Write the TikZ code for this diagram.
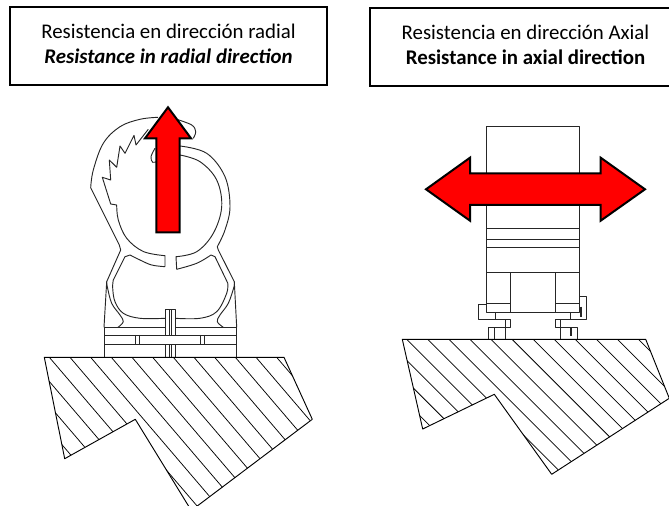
\documentclass[tikz,border=0pt]{standalone}
\usepackage{fontspec}
\setmainfont{Carlito}

\tikzset{
    titlebox/.style={draw=black, line width=1.3pt, fill=white, inner sep=0pt, minimum height=58.5pt},
    titletext/.style={align=center, inner sep=0pt, font=\fontsize{15.65}{18.75}\selectfont},
    part/.style={draw=black!85, line width=0.7pt, line join=round},
    ground/.style={draw=black, line width=0.7pt, line join=round},
    hatchline/.style={draw=black, line width=0.55pt},
    force/.style={draw=black, fill=red, line width=1.5pt, line join=miter}
}

\begin{document}
\begin{tikzpicture}[x=0.75pt, y=-0.75pt]
    \clip (0,0) rectangle (669,506);

    \node[titlebox, minimum width=237.75pt] (radialbox) at (168.5,46) {};
    \node[titletext] (radialtext) at (168.5,44)
        {Resistencia en dirección radial\\\textbf{\textit{Resistance in radial direction}}};
    \node[titlebox, minimum width=233.25pt] (axialbox) at (525.5,47) {};
    \node[titletext] (axialtext) at (525.5,44.5)
        {Resistencia en dirección Axial\\\textbf{Resistance in axial direction}};

    % ground under the clamp
    \begin{scope}
        \clip (44.3,357.3) -- (284,357.3) -- (312.3,419.3) -- (191.3,510.5) -- (135.3,419.3) -- (64.7,458.7) -- cycle;
        \foreach \k in {-3,...,11}
            \draw[hatchline] ({49.3+20.67*\k},357.3) -- ({49.3+20.67*\k+130.8},510.3);
    \end{scope}
    \draw[ground] (44.3,357.3) -- (284,357.3) -- (312.3,419.3) -- (191.3,510.5) -- (135.3,419.3) -- (64.7,458.7) -- cycle;

    % clamp, radial view
    \draw[part] plot[smooth, tension=0.6] coordinates {(158,117.3) (140,119.3) (120,126.7) (103.3,143.3) (93.3,170) (90.7,187.7)}
        -- (119.3,245) -- (120.7,250) -- (106.7,281.7) -- (104,327.3);
    \draw[part] plot[smooth, tension=0.6] coordinates {(176.7,119.3) (191.7,125) (195.7,131.7) (193.3,138.3)};
    \draw[part] (148.3,129.3) -- (136,145) -- (134,135.3) -- (125,153.3) -- (120,146) -- (116.7,167.3) -- (109.3,160) -- (110.7,180) -- (102.3,177.3) -- (110.7,204) -- (116.7,205);
    \draw[part] plot[smooth, tension=0.6] coordinates {(116.7,205) (118.3,220) (126.7,238.3) (143.3,251.5) (165,255.7)} -- (165,266.7);
    \draw[part] plot[smooth, tension=0.6] coordinates {(165,266.7) (151.7,265) (140,260) (130,255)} -- (125,256.7) -- (113.3,280);
    \draw[part] plot[smooth, tension=0.6] coordinates {(113.3,280) (112.7,288) (115,301.7) (123.3,313.3) (140,318.3) (165.5,318.3)};
    \draw[part] plot[smooth, tension=0.6] coordinates {(155,148.3) (151,156.7) (152.7,162.3) (157,161.5)};
    \draw[part] plot[smooth, tension=0.6] coordinates {(180,155) (200,161.7) (216.7,180) (221.7,206.7) (213.3,233.3) (196.7,251.7) (176,256.7)} -- (176.7,269.3);
    \draw[part] plot[smooth, tension=0.6] coordinates {(176.7,269.3) (196.7,263.3) (211,255)} -- (215,256.7) -- (227.7,283);
    \draw[part] plot[smooth, tension=0.6] coordinates {(227.7,283) (226.7,293.3) (216.7,311.7) (200,318.3) (175,318.3)};
    \draw[part] plot[smooth, tension=0.6] coordinates {(180,146) (206.7,153.3) (225,176.7) (230,206.7) (225,230) (217.3,246.7)} -- (218.3,250) -- (234.3,281.7) -- (236.7,327.3);
    \draw[part] plot[smooth, tension=0.6] coordinates {(234.3,281.7) (234,286.7) (228.3,303.3) (220,315) (217.3,321.7) (223.3,327.3)};
    \draw[part] plot[smooth, tension=0.6] coordinates {(106.7,281.7) (107.3,286.7) (111.7,303.3) (120,315) (123.3,321.7) (118,327.3)};
    \draw[part] (104,327.3) -- (236.7,327.3) (104,335) -- (236.7,335) (104,344.3) -- (236.7,344.3);
    \draw[part] (104,327.3) -- (104,357.3) (236.7,327.3) -- (236.7,357.3);
    \draw[part] (135.7,335) -- (135.7,344.3) (139.3,335) -- (139.3,344.3) (200.7,335) -- (200.7,344.3) (204.3,335) -- (204.3,344.3);
    \draw[part, fill=white] (165.5,335) -- (165.5,309.5) -- (175,309.5) -- (175,335);
    \draw[part] (169,309.5) -- (169,335) (171.5,309.5) -- (171.5,335);
    \draw[part] (165.5,344.3) -- (165.5,357.3) (169,344.3) -- (169,357.3) (171.5,344.3) -- (171.5,357.3) (175,344.3) -- (175,357.3);

    \draw[force] (168,107.3) -- (191,138.3) -- (179.7,138.3) -- (179.7,232.3) -- (156.3,232.3) -- (156.3,138.3) -- (145,138.3) -- cycle;

    % ground under the axial view
    \begin{scope}
        \clip (402.3,339.3) -- (645.7,339.3) -- (669.3,398.3) -- (551.7,474.3) -- (494.3,394.3) -- (422.7,429) -- cycle;
        \foreach \k in {-3,...,11}
            \draw[hatchline] ({406.7+21.07*\k},339.3) -- ({406.7+21.07*\k+140},479.3);
    \end{scope}
    \draw[ground] (402.3,339.3) -- (645.7,339.3) -- (669.3,398.3) -- (551.7,474.3) -- (494.3,394.3) -- (422.7,429) -- cycle;

    % clamp, axial view
    \draw[part] (486,312.3) -- (486,126.3) -- (579.3,126.3) -- (579.3,312.3) -- cycle;
    \draw[part] (486,228.3) -- (579.3,228.3) (486,239.3) -- (579.3,239.3) (486,247.3) -- (579.3,247.3) (486,272.7) -- (579.3,272.7);
    \draw[part] (510.7,272.7) -- (510.7,312.3) (555,272.7) -- (555,312.3);
    \draw[part] (486,303.3) -- (510.7,303.3) (555,303.3) -- (579.3,303.3);
    \draw[part] (486,304) -- (478.3,304) -- (478.3,319.3) -- (510.7,319.3) -- (510.7,327.3) -- (488.3,327.3) -- (488.3,339.3);
    \draw[part] (505,327.3) -- (505,339.3) (495,312.3) -- (495,319.3) (505.7,319.3) -- (505.7,327.3);
    \draw[part, line width=1.2pt] (494.5,327.3) -- (494.5,339.3);
    \draw[part] (579.3,296.7) -- (586.7,296.7) -- (586.7,319.3) -- (555,319.3) -- (555,327.3) -- (577.3,327.3) -- (577.3,339.3);
    \draw[part] (560.3,319.3) -- (560.3,339.3) (570,312.3) -- (570,319.3);
    \draw[part, line width=1.2pt] (571,327.3) -- (571,336.5);
    \draw[part, line width=1.2pt] (580.7,306.7) -- (580.7,316.7);

    \draw[force] (426,189.3) -- (470,157.7) -- (470,173.3) -- (600.7,173.3) -- (600.7,157.7) -- (645,189.3) -- (600.7,220.7) -- (600.7,205) -- (470,205) -- (470,220.7) -- cycle;
\end{tikzpicture}
\end{document}
